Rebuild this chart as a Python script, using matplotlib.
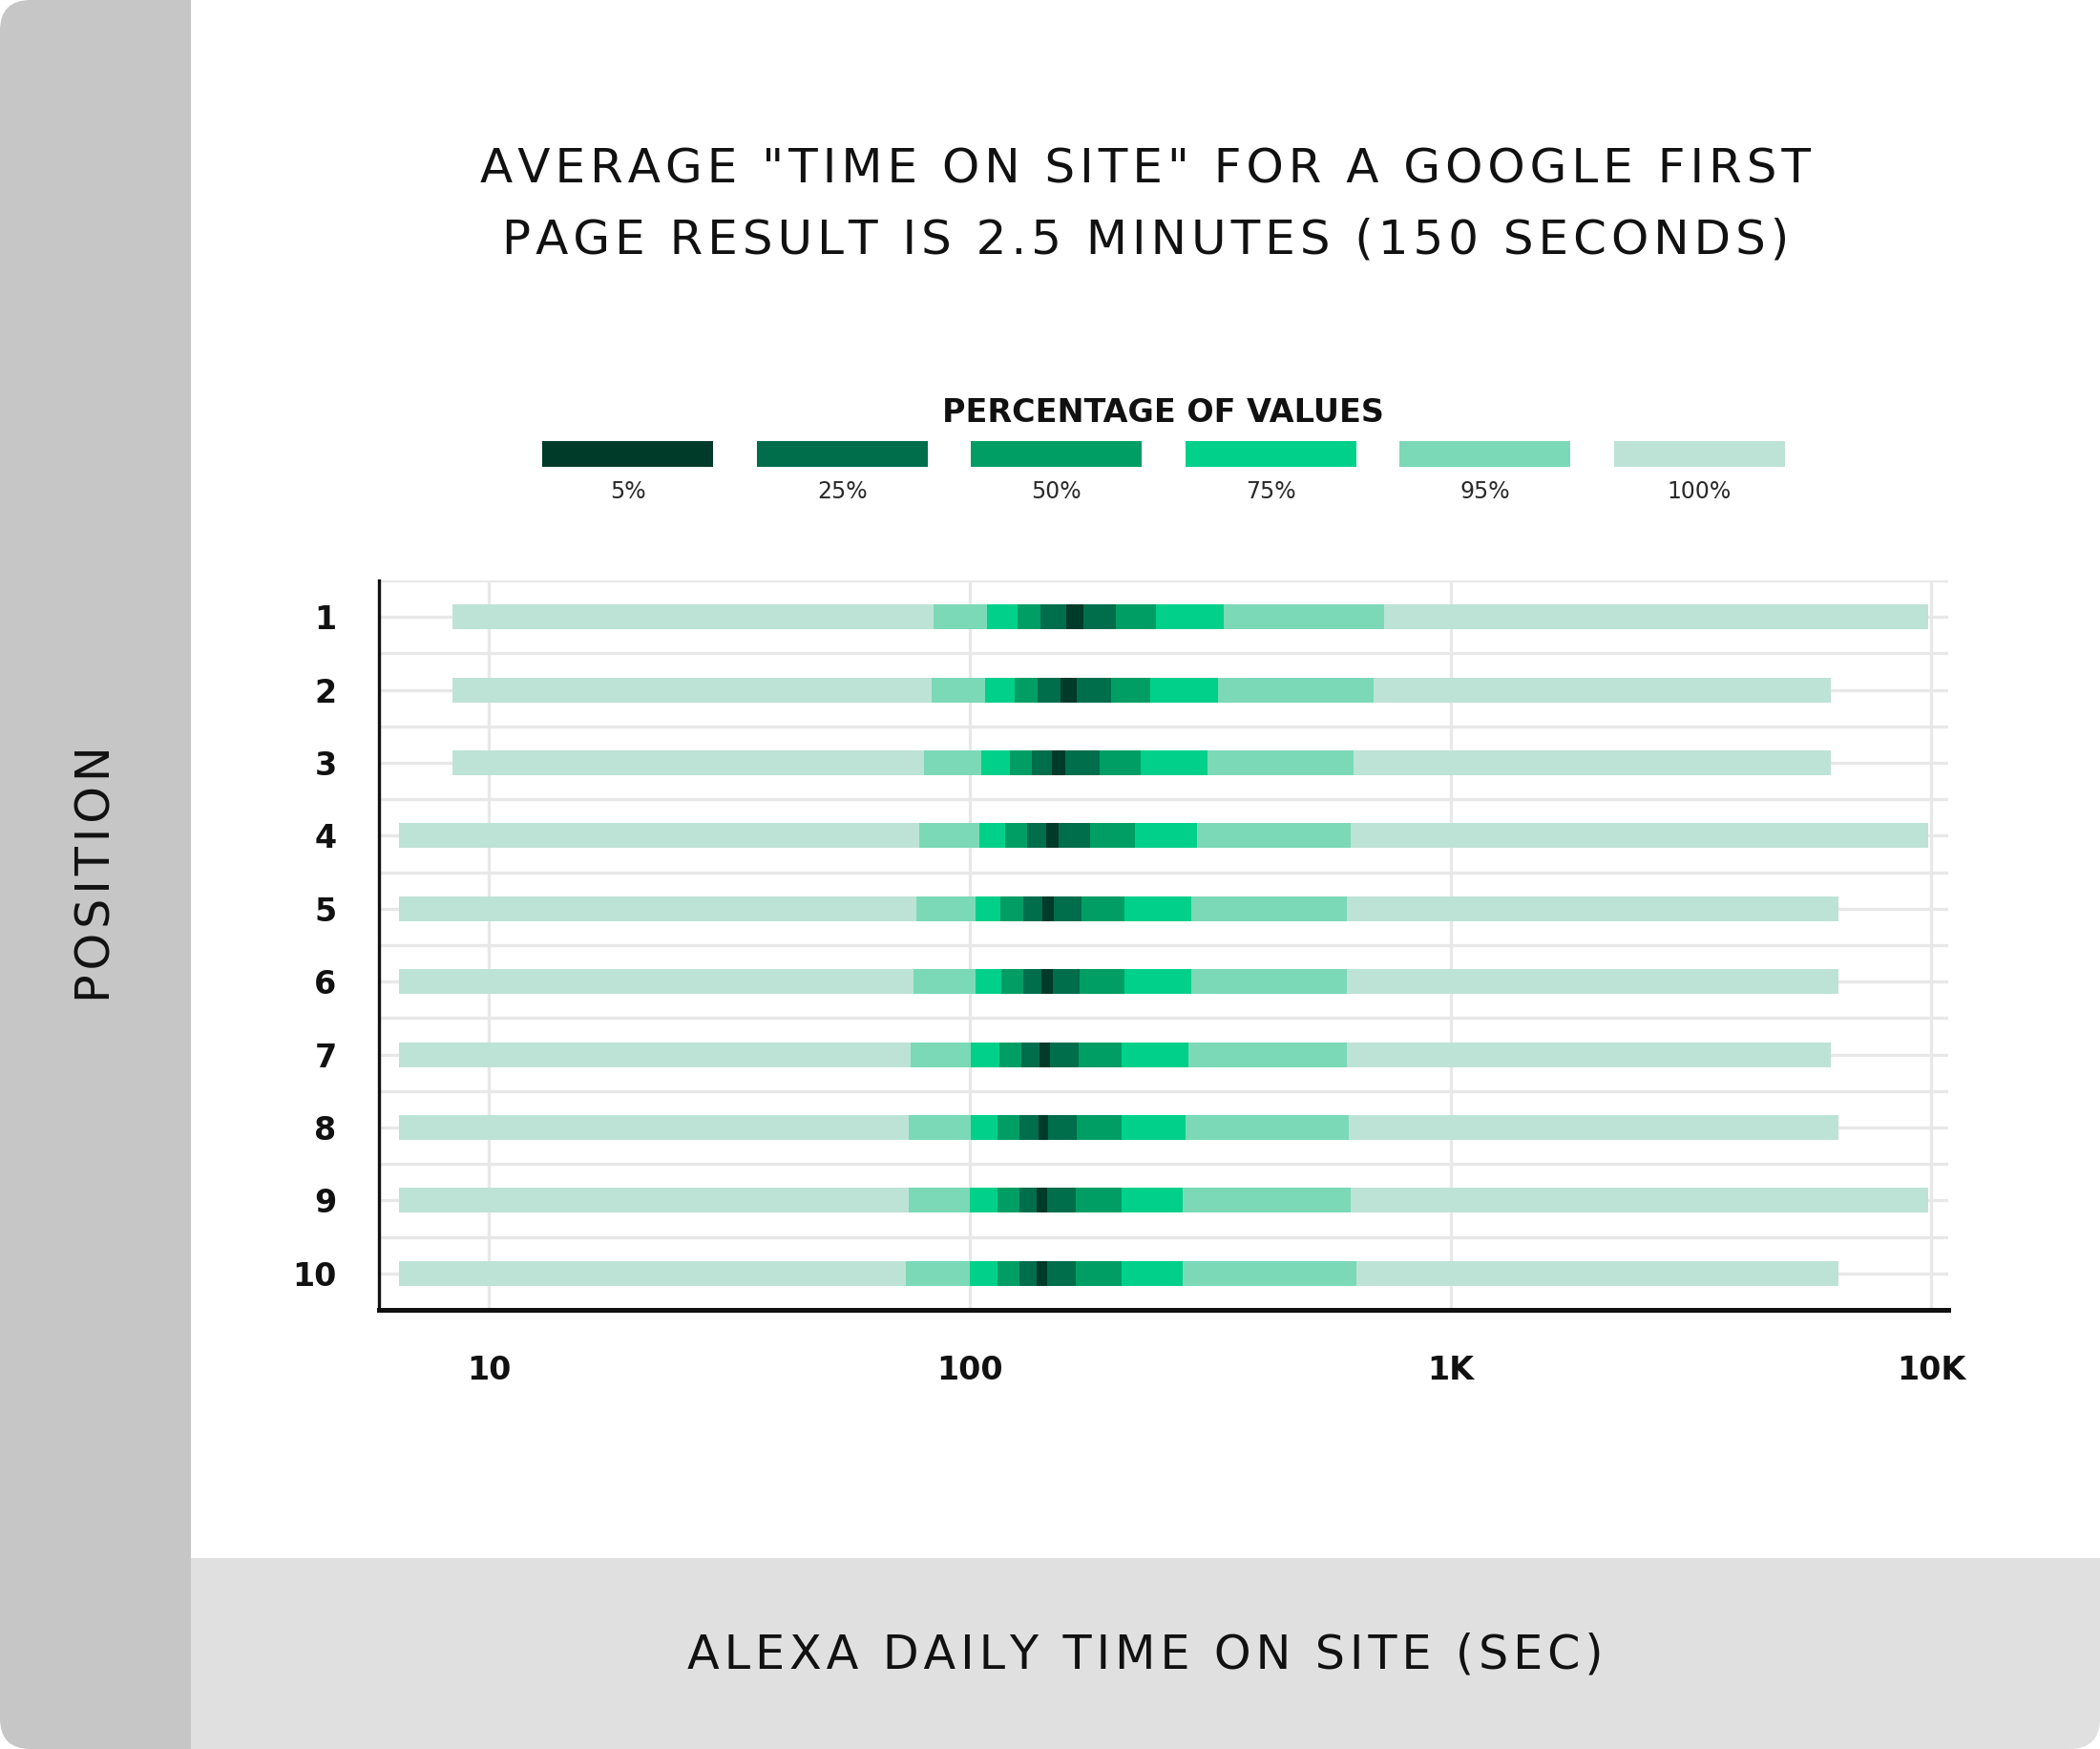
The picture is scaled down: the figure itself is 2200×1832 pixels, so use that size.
import matplotlib
matplotlib.use("Agg")
import matplotlib.pyplot as plt
from matplotlib.patches import Rectangle, FancyBboxPatch
import numpy as np

# position 1..10, boundaries of each percentile band (seconds)
positions = [1, 2, 3, 4, 5, 6, 7, 8, 9, 10]
lo100 = [8.4, 8.4, 8.4, 6.5, 6.5, 6.5, 6.5, 6.5, 6.5, 6.5]
lo95 = [84.0, 83.4, 80.4, 78.5, 77.5, 76.4, 75.5, 74.7, 74.7, 73.7]
lo75 = [108.6, 107.7, 105.8, 104.7, 102.9, 102.9, 100.5, 100.5, 99.9, 99.9]
lo50 = [125.9, 124.3, 121.2, 118.3, 115.9, 116.3, 115.3, 114.5, 114.5, 114.5]
lo25 = [140.4, 138.7, 134.9, 131.9, 129.1, 129.1, 127.8, 126.9, 126.9, 127.2]
lo5 = [159.1, 154.3, 148.6, 144.4, 141.7, 140.7, 139.8, 138.8, 137.8, 137.8]
hi5 = [172.4, 167.0, 158.2, 152.8, 149.6, 148.8, 146.8, 145.4, 145.0, 145.0]
hi25 = [201.1, 196.5, 186.2, 177.9, 171.1, 169.4, 168.2, 167.1, 166.1, 166.1]
hi50 = [243.7, 237.8, 226.9, 220.3, 210.3, 209.6, 207.4, 206.7, 206.7, 206.7]
hi75 = [337.9, 328.0, 312.8, 297.0, 288.9, 288.4, 284.7, 281.2, 277.5, 277.5]
hi95 = [727.4, 692.3, 628.6, 619.9, 608.2, 608.2, 608.2, 613.8, 619.9, 637.9]
hi100 = [9860, 6174, 6174, 9860, 6416, 6416, 6174, 6416, 9860, 6416]

legend_labels = ["5%", "25%", "50%", "75%", "95%", "100%"]
colors = {"5%": "#003a28", "25%": "#006d4b", "50%": "#009e65",
          "75%": "#00d08a", "95%": "#7bd9b8", "100%": "#bde3d6"}
xticks = [10, 100, 1000, 10000]
xticklabels = ["10", "100", "1K", "10K"]

plt.rcParams["font.family"] = ["DejaVu Sans"]


def spaced(s, gap="\u200a"):
    # fake letter spacing with hair spaces
    return gap.join(s)


fig = plt.figure(figsize=(22, 18.32), dpi=100)

# background card
bg = fig.add_axes([0, 0, 1, 1], zorder=-1)
bg.set_xlim(0, 2200)
bg.set_ylim(1832, 0)
bg.axis("off")
card = FancyBboxPatch((0, 0), 2200, 1832, boxstyle="round,pad=0,rounding_size=32",
                      facecolor="white", edgecolor="none", transform=bg.transData)
bg.add_patch(card)
left_band = Rectangle((0, 0), 200, 1832, facecolor="#c6c6c6", edgecolor="none")
bottom_band = Rectangle((200, 1632), 2000, 200, facecolor="#e0e0e0", edgecolor="none")
for p in (left_band, bottom_band):
    bg.add_patch(p)
    p.set_clip_path(card)

bg.text(1200, 177, spaced('AVERAGE "TIME ON SITE" FOR A GOOGLE FIRST'), ha="center",
        va="center", fontsize=36, color="#111111")
bg.text(1200, 251, spaced("PAGE RESULT IS 2.5 MINUTES (150 SECONDS)"), ha="center",
        va="center", fontsize=36, color="#111111")
bg.text(1218, 432, "PERCENTAGE OF VALUES", ha="center", va="center",
        fontsize=24, fontweight="bold", color="#111111")
for i, lab in enumerate(legend_labels):
    x0 = 568 + i * 224.6
    bg.add_patch(Rectangle((x0, 462), 179, 27, facecolor=colors[lab], edgecolor="none"))
    bg.text(x0 + 89.5, 515, lab, ha="center", va="center", fontsize=17,
            color="#2a2a2a")
bg.text(101, 916, spaced("POSITION"), rotation=90, ha="center", va="center",
        fontsize=35.5, color="#111111")
bg.text(1200, 1733, spaced("ALEXA DAILY TIME ON SITE (SEC)"), ha="center",
        va="center", fontsize=35.5, color="#111111")

# chart
ax = fig.add_axes([397 / 2200, 460 / 1832, 1644 / 2200, 764 / 1832])
ax.set_xscale("log")
ax.set_xlim(5.909, 10841)
ax.set_ylim(10.5, 0.5)

segments = [(lo100, lo95, "100%"), (lo95, lo75, "95%"), (lo75, lo50, "75%"),
            (lo50, lo25, "50%"), (lo25, lo5, "25%"), (lo5, hi5, "5%"),
            (hi5, hi25, "25%"), (hi25, hi50, "50%"), (hi50, hi75, "75%"),
            (hi75, hi95, "95%"), (hi95, hi100, "100%")]
for start, end, lab in segments:
    s = np.array(start)
    e = np.array(end)
    ax.barh(positions, e - s, left=s, height=0.34, color=colors[lab],
            edgecolor="none", zorder=3)

for y in np.arange(0.5, 10.01, 0.5):
    ax.axhline(y, color="#e8e8e8", lw=2.4, zorder=1)
for x in xticks:
    ax.axvline(x, color="#e8e8e8", lw=2.4, zorder=1)

ax.set_xticks(xticks)
ax.set_xticklabels(xticklabels)
ax.xaxis.set_minor_locator(matplotlib.ticker.NullLocator())
ax.set_yticks(positions)
ax.set_yticklabels([str(p) for p in positions])
ax.tick_params(axis="both", length=0, labelsize=24, colors="#111111")
ax.tick_params(axis="y", pad=32)
ax.tick_params(axis="x", pad=34)
for t in ax.get_xticklabels() + ax.get_yticklabels():
    t.set_fontweight("bold")

for side in ("top", "right"):
    ax.spines[side].set_visible(False)
ax.spines["left"].set_linewidth(2.4)
ax.spines["bottom"].set_linewidth(3.6)
ax.spines["left"].set_color("#111111")
ax.spines["bottom"].set_color("#111111")
ax.set_facecolor("none")

fig.savefig("out.png", dpi=100)
